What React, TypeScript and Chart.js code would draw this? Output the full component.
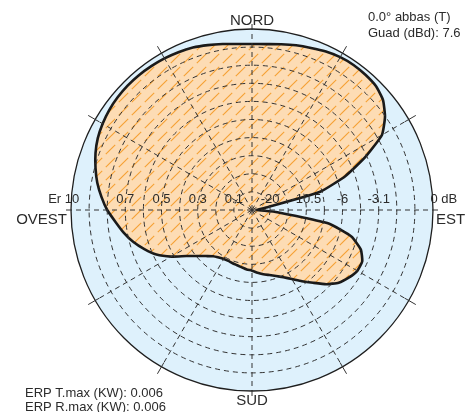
import React, { useEffect, useRef } from 'react';
import { Chart, registerables } from 'chart.js';

Chart.register(...registerables);

// Bearings (degrees clockwise from north) used as radar categories
const bearings = [
  '0', '5', '10', '15', '20', '25', '30', '35', '40', '45', '50', '55',
  '60', '65', '70', '75', '80', '85', '90', '95', '100', '105', '110', '115',
  '120', '125', '130', '135', '140', '145', '150', '155', '160', '165', '170', '175',
  '180', '185', '190', '195', '200', '205', '210', '215', '220', '225', '230', '235',
  '240', '245', '250', '255', '260', '265', '270', '275', '280', '285', '290', '295',
  '300', '305', '310', '315', '320', '325', '330', '335', '340', '345', '350', '355',
];

// Relative field (Er)
const fieldValues = [
  0.917, 0.920, 0.930, 0.942, 0.953, 0.966, 0.975, 0.978, 0.975, 0.968, 0.945, 0.897,
  0.829, 0.690, 0.550, 0.390, 0.080, 0.040, 0.025, 0.140, 0.430, 0.570, 0.640, 0.672,
  0.672, 0.652, 0.625, 0.580, 0.525, 0.480, 0.440, 0.410, 0.388, 0.372, 0.360, 0.348,
  0.335, 0.330, 0.322, 0.316, 0.313, 0.310, 0.312, 0.320, 0.333, 0.360, 0.395, 0.443,
  0.515, 0.583, 0.633, 0.680, 0.720, 0.757, 0.800, 0.835, 0.868, 0.895, 0.920, 0.940,
  0.953, 0.963, 0.969, 0.972, 0.972, 0.970, 0.967, 0.962, 0.955, 0.943, 0.931, 0.921,
];

// Ring labels
const ringValues = [0.1, 0.3, 0.5, 0.7];
const fieldLabels = ['0.1', '0.3', '0.5', '0.7'];
const dbLabels = ['-20', '-10.5', '-6', '-3.1'];
const outerFieldLabel = ['Er ', '10'];
const outerDbLabel = ['0', ' dB'];

// Cardinal labels: N, E, S, W
const cardinalLabels = ['NORD', 'EST', 'SUD', 'OVEST'];

// Info texts
const infoTop = ['0.0° abbas (T)', 'Guad (dBd): 7.6'];
const infoBottom = ['ERP T.max (KW): 0.006', 'ERP R.max (KW): 0.006'];

const FONT = '"Liberation Sans", Arial, sans-serif';
const TEXT = '#2b2b2b';
const GRID = '#333333';

const decorPlugin = {
  id: 'decor',
  beforeDatasetsDraw(chart: any) {
    const s = chart.scales.r;
    const c = chart.ctx;
    c.save();
    c.beginPath();
    c.arc(s.xCenter, s.yCenter, s.getDistanceFromCenterForValue(1), 0, Math.PI * 2);
    c.fillStyle = '#def1fc';
    c.fill();
    c.restore();
  },
  afterDraw(chart: any) {
    const s = chart.scales.r;
    const c = chart.ctx;
    const xc = s.xCenter;
    const yc = s.yCenter;
    const R = s.getDistanceFromCenterForValue(1);
    c.save();
    // outer circle
    c.beginPath();
    c.arc(xc, yc, R, 0, Math.PI * 2);
    c.strokeStyle = '#1e1e1e';
    c.lineWidth = 1.3;
    c.stroke();
    // ticks at 30° spokes
    c.lineWidth = 1;
    c.strokeStyle = GRID;
    for (let i = 6; i < bearings.length; i += 6) {
      if (i % 18 === 0) continue;
      const a = s.getPointPositionForValue(i, 0.975);
      const b = s.getPointPositionForValue(i, 1.045);
      c.beginPath();
      c.moveTo(a.x, a.y);
      c.lineTo(b.x, b.y);
      c.stroke();
    }
    // cardinal axis extensions
    c.setLineDash([5, 4]);
    for (let i = 0; i < bearings.length; i += 18) {
      const a = s.getPointPositionForValue(i, 1.0);
      const b = s.getPointPositionForValue(i, 1.03);
      c.beginPath();
      c.moveTo(a.x, a.y);
      c.lineTo(b.x, b.y);
      c.stroke();
    }
    c.setLineDash([]);

    // ring labels
    c.fillStyle = TEXT;
    c.font = '13px ' + FONT;
    c.textBaseline = 'middle';
    c.textAlign = 'center';
    const ly = yc - 11;
    ringValues.forEach((v, i) => {
      const d = s.getDistanceFromCenterForValue(v);
      c.fillText(fieldLabels[i], xc - d, ly);
      c.fillText(dbLabels[i], xc + d, ly);
    });
    // outer ring labels
    const wNum = c.measureText(outerFieldLabel[1]).width;
    const wEr = c.measureText(outerFieldLabel[0]).width;
    c.textAlign = 'left';
    c.fillText(outerFieldLabel[0] + outerFieldLabel[1], xc - R + 1 - wNum / 2 - wEr, ly);
    const w0 = c.measureText(outerDbLabel[0]).width;
    c.fillText(outerDbLabel[0] + outerDbLabel[1], xc + R + 1 - w0 / 2, ly);

    // cardinal labels
    c.font = '15px ' + FONT;
    c.textAlign = 'center';
    c.fillText(cardinalLabels[0], xc, yc - R - 8);
    c.fillText(cardinalLabels[2], xc, yc + R + 10);
    c.textAlign = 'left';
    c.fillText(cardinalLabels[1], xc + R + 3, yc + 10);
    c.textAlign = 'right';
    c.fillText(cardinalLabels[3], xc - R - 4, yc + 10);

    // info texts
    c.font = '13px ' + FONT;
    c.textAlign = 'left';
    c.fillText(infoTop[0], 368, 17);
    c.fillText(infoTop[1], 368, 33);
    c.fillText(infoBottom[0], 25, 393);
    c.fillText(infoBottom[1], 25, 407);
    c.restore();
  },
};

export default function App() {
  const ref = useRef<HTMLCanvasElement>(null);
  useEffect(() => {
    const canvas = ref.current!;
    const ctx = canvas.getContext('2d')!;
    const pc = document.createElement('canvas');
    pc.width = 13;
    pc.height = 13;
    const p = pc.getContext('2d')!;
    p.fillStyle = '#fddcb4';
    p.fillRect(0, 0, 13, 13);
    p.strokeStyle = '#f6a033';
    p.lineWidth = 1.1;
    p.beginPath();
    p.moveTo(1.8, 11.2);
    p.lineTo(11.2, 1.8);
    p.stroke();
    const pattern = ctx.createPattern(pc, 'repeat');

    const chart = new Chart(ctx, {
      type: 'radar',
      data: {
        labels: bearings,
        datasets: [
          {
            data: fieldValues,
            backgroundColor: pattern as any,
            borderColor: '#1a1a1a',
            borderWidth: 2.6,
            borderJoinStyle: 'round',
            fill: 'start',
            pointRadius: 0,
            pointHoverRadius: 0,
            tension: 0.15,
          },
        ],
      },
      options: {
        responsive: false,
        animation: false,
        events: [],
        layout: { padding: { left: 71, right: 43, top: 29, bottom: 21 } },
        plugins: { legend: { display: false }, tooltip: { enabled: false } },
        scales: {
          r: {
            min: 0,
            max: 1,
            ticks: { display: false, stepSize: 0.1 },
            pointLabels: { display: false },
            grid: {
              circular: true,
              z: 1,
              color: (c: any) => (c.tick && c.tick.value > 0.95 ? 'transparent' : GRID),
              lineWidth: 1,
            },
            border: { dash: [5, 4] },
            angleLines: {
              display: true,
              color: GRID,
              lineWidth: (c: any) => (c.index % 6 === 0 ? 1 : 0),
              borderDash: [5, 4],
            },
          },
        },
      } as any,
      plugins: [decorPlugin],
    });
    return () => chart.destroy();
  }, []);
  return (
    <div style={{ position: 'fixed', left: 0, top: 0, width: 476, height: 412, background: '#fff' }}>
      <canvas ref={ref} width={476} height={412} style={{ display: 'block' }} />
    </div>
  );
}
